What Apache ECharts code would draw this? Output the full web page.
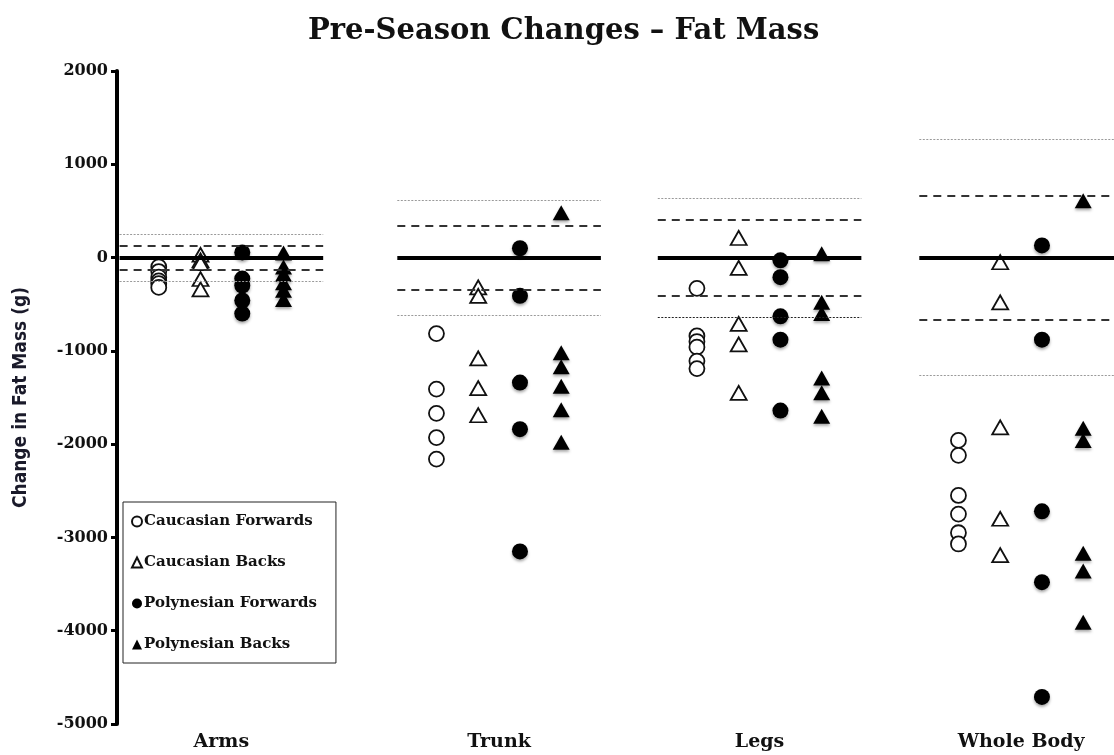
<!DOCTYPE html>
<html>
<head>
<meta charset="utf-8">
<script src="https://cdn.jsdelivr.net/npm/echarts@6/dist/echarts.min.js"></script>
<style>
  html, body { margin: 0; padding: 0; background: #fff; }
  #chart { width: 1114px; height: 755px; }
</style>
</head>
<body>
<div id="chart"></div>
<script>
// 데이터 (g)
const categories = ["Arms", "Trunk", "Legs", "Whole Body"];
const yTicks = [-5000, -4000, -3000, -2000, -1000, 0, 1000, 2000];

const cauFwd = [
  [-100, -150, -210, -250, -280, -320],
  [-815, -1410, -1670, -1930, -2160],
  [-330, -840, -900, -960, -1110, -1190],
  [-1960, -2120, -2550, -2750, -2950, -3070]
];
const cauBack = [
  [30, -30, -60, -230, -340],
  [-320, -410, -1080, -1400, -1690],
  [210, -110, -710, -930, -1450],
  [-50, -480, -1820, -2800, -3190]
];
const polyFwd = [
  [55, -225, -300, -460, -600],
  [100, -410, -1340, -1840, -3150],
  [-30, -210, -630, -880, -1640],
  [130, -880, -2720, -3480, -4710]
];
const polyBack = [
  [50, -100, -180, -270, -350, -450],
  [480, -1020, -1170, -1380, -1630, -1980],
  [40, -480, -600, -1290, -1450, -1700],
  [610, -1830, -1960, -3170, -3360, -3910]
];
// 기준선 (±)
const dashedBand = [130, 345, 410, 665];
const dottedBand = [250, 615, 640, 1265];

// 레이아웃
const catCenters = [0.4, 1.464, 2.462, 3.464];
const groupOffsets = [-0.24, -0.08, 0.08, 0.238];
const halfWidth = 0.39;
const X_MAX = 3.82;
const FONT = "DejaVu Serif";

function toPoints(groups, g) {
  const pts = [];
  groups.forEach((vals, i) => {
    vals.forEach((v) => pts.push([catCenters[i] + groupOffsets[g], v]));
  });
  return pts;
}

function refLines() {
  const lines = [];
  const seg = (i, y, style) => [
    { coord: [catCenters[i] - halfWidth, y], lineStyle: style },
    { coord: [Math.min(catCenters[i] + halfWidth, X_MAX), y] }
  ];
  categories.forEach((_, i) => {
    const dotted = { color: "#9a9a9a", width: 1.2, type: [2, 1.5] };
    const dottedLow = i === 2 ? { color: "#222", width: 1.2, type: [2, 1.5] } : dotted;
    const dashed = { color: "#333", width: 2, type: [8, 6] };
    lines.push(seg(i, dottedBand[i], dotted));
    lines.push(seg(i, -dottedBand[i], dottedLow));
    lines.push(seg(i, dashedBand[i], dashed));
    lines.push(seg(i, -dashedBand[i], dashed));
    lines.push(seg(i, 0, { color: "#000", width: 4, type: "solid" }));
  });
  return lines;
}

const openStyle = { color: "#fff", borderColor: "#111", borderWidth: 1.8, opacity: 1 };
const filledStyle = {
  color: "#000", borderColor: "#000", borderWidth: 0, opacity: 1,
  shadowColor: "rgba(0,0,0,0.35)", shadowBlur: 3, shadowOffsetY: 2
};

const chart = echarts.init(document.getElementById("chart"));

chart.setOption({
  animation: false,
  title: {
    text: "Pre-Season Changes – Fat Mass",
    left: 303,
    top: 12,
    textStyle: { fontFamily: FONT, fontWeight: "bold", fontSize: 29, color: "#111" }
  },
  legend: {
    orient: "vertical",
    left: 123,
    top: 502,
    padding: [12, 19, 11, 8],
    itemGap: 26,
    itemWidth: 10,
    itemHeight: 10,
    backgroundColor: "#fff",
    borderColor: "#222",
    borderWidth: 1,
    textStyle: { fontFamily: FONT, fontWeight: "bold", fontSize: 15, color: "#111", padding: [0, 0, 0, -3] },
    data: ["Caucasian Forwards", "Caucasian Backs", "Polynesian Forwards", "Polynesian Backs"]
  },
  grid: { left: 117, right: 0, top: 71, bottom: 31 },
  xAxis: {
    type: "value",
    min: 0,
    max: X_MAX,
    axisLine: { show: false },
    axisTick: { show: false },
    splitLine: { show: false },
    axisLabel: {
      customValues: catCenters,
      formatter: (v) => {
        const idx = catCenters.findIndex((c) => Math.abs(c - v) < 1e-6);
        return idx >= 0 ? categories[idx] : "";
      },
      margin: 9,
      fontFamily: FONT,
      fontWeight: "bold",
      fontSize: 19,
      color: "#111"
    }
  },
  yAxis: {
    type: "value",
    min: -5000,
    max: 2000,
    interval: 1000,
    name: "Change in Fat Mass (g)",
    nameLocation: "middle",
    nameGap: 86,
    nameTextStyle: {
      fontFamily: "DejaVu Sans Condensed, sans-serif",
      fontWeight: "bold", fontSize: 19, color: "#1a1a2a"
    },
    axisLine: { show: true, lineStyle: { color: "#000", width: 4 } },
    axisTick: { show: true, inside: false, length: 6, lineStyle: { color: "#000", width: 3 } },
    splitLine: { show: false },
    axisLabel: {
      margin: 9,
      fontFamily: FONT,
      fontWeight: "bold",
      fontSize: 16,
      color: "#111",
      formatter: (v) => String(v)
    }
  },
  series: [
    {
      name: "refs",
      type: "scatter",
      data: [],
      z: 1,
      silent: true,
      markLine: {
        silent: true,
        symbol: ["none", "none"],
        label: { show: false },
        animation: false,
        data: refLines()
      }
    },
    {
      name: "Caucasian Forwards",
      type: "scatter",
      z: 3,
      symbol: "circle",
      symbolSize: 15,
      itemStyle: openStyle,
      data: toPoints(cauFwd, 0)
    },
    {
      name: "Caucasian Backs",
      type: "scatter",
      z: 3,
      symbol: "triangle",
      symbolSize: [16, 14],
      itemStyle: openStyle,
      data: toPoints(cauBack, 1)
    },
    {
      name: "Polynesian Forwards",
      type: "scatter",
      z: 3,
      symbol: "circle",
      symbolSize: 16,
      itemStyle: filledStyle,
      data: toPoints(polyFwd, 2)
    },
    {
      name: "Polynesian Backs",
      type: "scatter",
      z: 3,
      symbol: "triangle",
      symbolSize: [17, 15],
      itemStyle: filledStyle,
      data: toPoints(polyBack, 3)
    }
  ]
});
</script>
</body>
</html>
